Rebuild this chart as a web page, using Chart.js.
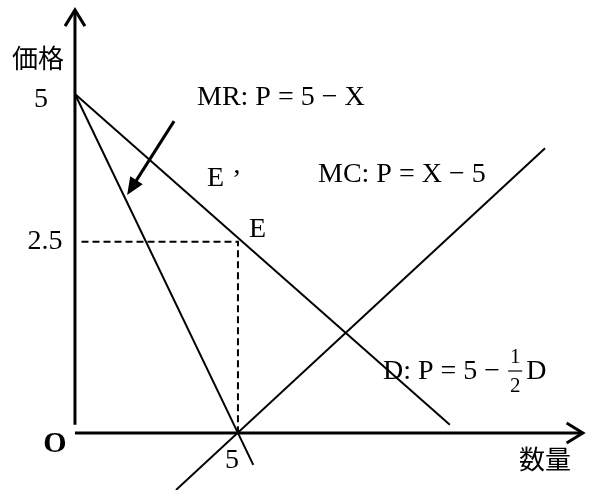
<!DOCTYPE html>
<html>
<head>
<meta charset="utf-8">
<script src="https://cdn.jsdelivr.net/npm/chart.js@4"></script>
<style>
  html, body { margin: 0; padding: 0; background: #fff; }
  #wrap { width: 590px; height: 490px; }
</style>
</head>
<body>
<div id="wrap"><canvas id="chart"></canvas></div>
<script>
// values (x = quantity, y = price, drawing not to scale)
const demandLine = [{x: 0, y: 5}, {x: 11.5, y: 0.12}];
const mrLine = [{x: 0, y: 5}, {x: 5.47, y: -0.47}];
const mcLine = [{x: 3.1, y: -0.84}, {x: 14.42, y: 4.2}];
const guideLine = [{x: 0.2, y: 2.82}, {x: 5, y: 2.82}, {x: 5, y: 0}];
const yAxisLine = [{x: 0, y: 0.12}, {x: 0, y: 6.24}];
const xAxisLine = [{x: 0, y: 0}, {x: 15.58, y: 0}];
const pointer = [{x: 3.04, y: 4.6}, {x: 1.6, y: 3.51}];
const yTicks = [5, 2.82];
const yTickLabels = ["5", "2.5"];
const xTicks = [5];
const xTickLabels = ["5"];

const serif = '"Liberation Serif", "DejaVu Serif", serif';
const jp = '"Noto Sans CJK JP", sans-serif';

function seg(data, width, dash) {
  return {
    data: data,
    showLine: true,
    borderColor: "#000",
    borderWidth: width,
    borderDash: dash || [],
    pointRadius: 0,
    fill: false
  };
}

const drawings = {
  id: "drawings",
  afterDatasetsDraw(chart) {
    const c = chart.ctx;
    const sx = chart.scales.x, sy = chart.scales.y;
    const px = v => sx.getPixelForValue(v);
    const py = v => sy.getPixelForValue(v);
    c.save();
    c.strokeStyle = "#000";
    c.fillStyle = "#000";

    // open arrowheads on the axes
    function chevron(p, q) {
      const x1 = px(p.x), y1 = py(p.y), x2 = px(q.x), y2 = py(q.y);
      const a = Math.atan2(y2 - y1, x2 - x1);
      c.lineWidth = 3;
      c.beginPath();
      c.moveTo(x2 - 19 * Math.cos(a - 0.55), y2 - 19 * Math.sin(a - 0.55));
      c.lineTo(x2, y2);
      c.lineTo(x2 - 19 * Math.cos(a + 0.55), y2 - 19 * Math.sin(a + 0.55));
      c.stroke();
    }
    chevron(yAxisLine[0], yAxisLine[1]);
    chevron(xAxisLine[0], xAxisLine[1]);

    // filled arrow pointing at MR
    const ax1 = px(pointer[0].x), ay1 = py(pointer[0].y);
    const ax2 = px(pointer[1].x), ay2 = py(pointer[1].y);
    const a = Math.atan2(ay2 - ay1, ax2 - ax1);
    c.lineWidth = 3;
    c.beginPath();
    c.moveTo(ax1, ay1);
    c.lineTo(ax2 - 14 * Math.cos(a), ay2 - 14 * Math.sin(a));
    c.stroke();
    c.beginPath();
    c.moveTo(ax2, ay2);
    c.lineTo(ax2 - 19 * Math.cos(a - 0.4), ay2 - 19 * Math.sin(a - 0.4));
    c.lineTo(ax2 - 19 * Math.cos(a + 0.4), ay2 - 19 * Math.sin(a + 0.4));
    c.closePath();
    c.fill();

    // tick labels
    c.textBaseline = "middle";
    c.textAlign = "center";
    c.font = "28px " + serif;
    yTicks.forEach((v, i) => {
      c.fillText(yTickLabels[i], i === 0 ? px(0) - 34 : px(0) - 30, py(v) + (i === 0 ? 6 : 0));
    });
    xTicks.forEach((v, i) => c.fillText(xTickLabels[i], px(v) - 6, py(0) + 28));
    c.font = "bold 30px " + serif;
    c.fillText("O", px(0) - 20, py(0) + 11);

    // axis titles
    c.font = "26px " + jp;
    c.fillText("価格", px(0) - 37, py(0) - 375);
    c.fillText("数量", px(0) + 470, py(0) + 26);

    // curve labels
    c.textAlign = "left";
    c.font = "28px " + serif;
    c.fillText("MR: P = 5 \u2212 X", 197, 98);
    c.fillText("MC: P = X \u2212 5", 318, 175);
    c.fillText("E", 207, 179);
    c.fillText("\u2019", 232, 181);
    c.fillText("E", 249, 230);
    const dTxt = "D: P = 5 \u2212 ";
    c.fillText(dTxt, 383, 372);
    const w = c.measureText(dTxt).width;
    c.textAlign = "center";
    c.font = "21px " + serif;
    c.fillText("1", 383 + w + 8, 357);
    c.fillText("2", 383 + w + 8, 386);
    c.lineWidth = 1.2;
    c.beginPath();
    c.moveTo(383 + w + 1, 371);
    c.lineTo(383 + w + 15, 371);
    c.stroke();
    c.textAlign = "left";
    c.font = "28px " + serif;
    c.fillText("D", 383 + w + 19, 372);
    c.restore();
  }
};

new Chart(document.getElementById("chart"), {
  type: "scatter",
  data: {
    datasets: [
      seg(yAxisLine, 3),
      seg(xAxisLine, 3),
      seg(demandLine, 2),
      seg(mrLine, 2),
      seg(mcLine, 2),
      seg(guideLine, 2, [7, 4])
    ]
  },
  options: {
    responsive: true,
    maintainAspectRatio: false,
    animation: false,
    layout: { padding: 0 },
    plugins: { legend: { display: false }, tooltip: { enabled: false } },
    scales: {
      x: { type: "linear", min: -2.3, max: 15.8, display: false },
      y: { type: "linear", min: -0.841, max: 6.386, display: false }
    }
  },
  plugins: [drawings]
});
</script>
</body>
</html>
